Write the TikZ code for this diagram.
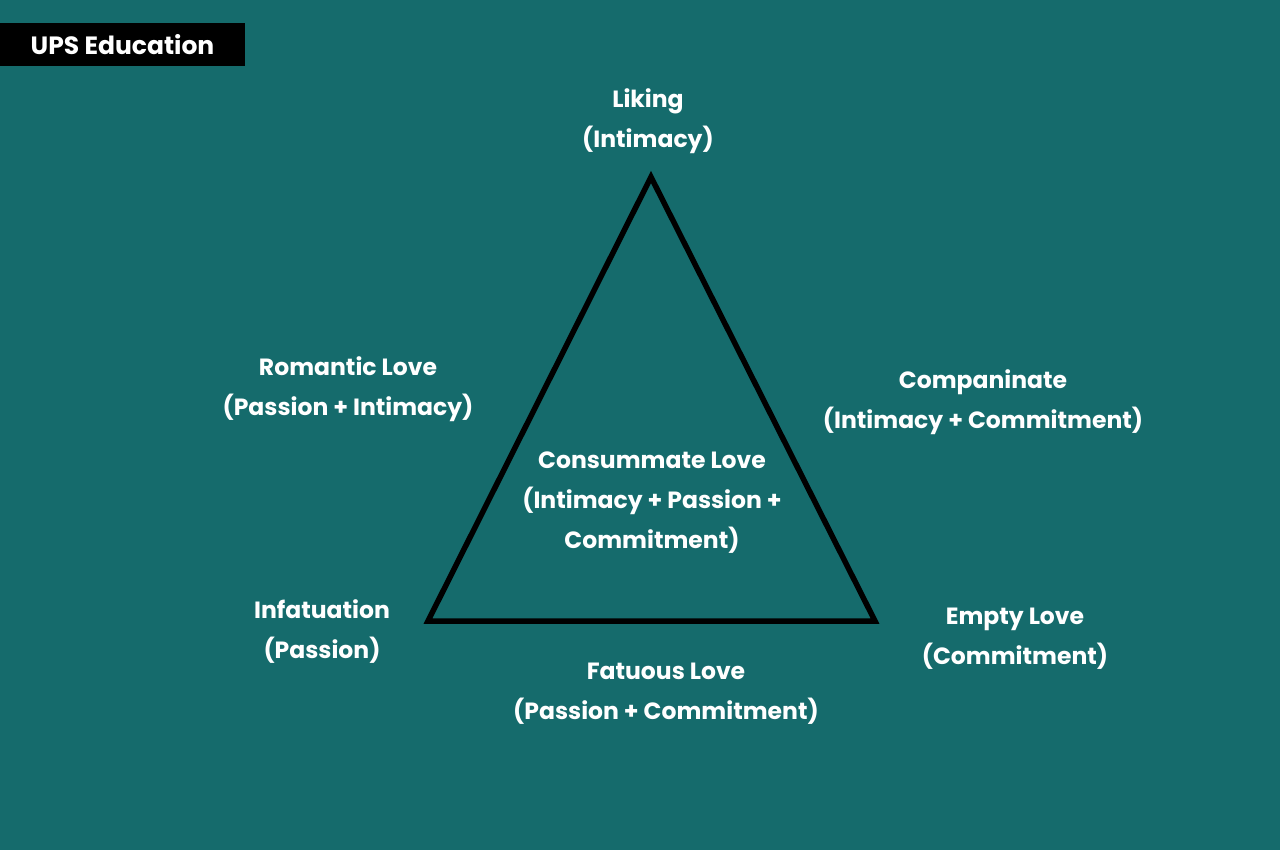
\documentclass[tikz,border=0pt]{standalone}
\usepackage{fontspec}
\setmainfont{Poppins}
\usetikzlibrary{positioning}
\definecolor{upsteal}{RGB}{21,107,108}
\tikzset{
  lvlabel/.style={text=white, font=\bfseries\fontsize{23.5}{40}\selectfont, align=center, inner sep=0pt},
  lvtri/.style={draw=black, line width=5.5pt, line join=miter},
  lvbanner/.style={fill=black, text=white, font=\bfseries\fontsize{25}{30}\selectfont, minimum width=245pt, minimum height=43pt, inner sep=0pt},
}

\begin{document}
\begin{tikzpicture}[x=1pt, y=-1pt]
  \fill[upsteal] (0,0) rectangle (1280,850);
  \useasboundingbox (0,0) rectangle (1280,850);

  \node[lvbanner] (brand) at (122.5,44.5) {UPS Education};

  % triangle corners
  \coordinate (top) at (651,177);
  \coordinate (left) at (428,621);
  \coordinate (right) at (875,621);
  \draw[lvtri] (top) -- (left) -- (right) -- cycle;

  \node[lvlabel] (liking) at (648,121) {Liking\\(Intimacy)};
  \node[lvlabel] (romantic) at (348,389) {Romantic Love\\(Passion + Intimacy)};
  \node[lvlabel] (compan) at (983,402) {Companinate\\(Intimacy + Commitment)};
  \node[lvlabel] (consum) at (652,503) {Consummate Love\\(Intimacy + Passion +\\Commitment)};
  \node[lvlabel] (infat) at (322,632) {Infatuation\\(Passion)};
  \node[lvlabel] (empty) at (1015,639) {Empty Love\\(Commitment)};
  \node[lvlabel] (fatuous) at (666,694) {Fatuous Love\\(Passion + Commitment)};
\end{tikzpicture}
\end{document}
